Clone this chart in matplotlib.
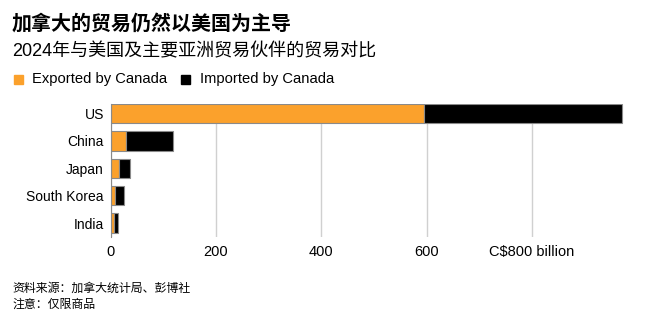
import matplotlib.pyplot as plt
import numpy as np

plt.rcParams['font.family'] = ['Liberation Sans', 'Noto Sans CJK SC']

countries = ['US', 'China', 'Japan', 'South Korea', 'India']
exported = [596, 30, 16, 8, 6]
imported = [376, 89, 21, 17, 8]
xticks = [0, 200, 400, 600, 800]
xtick_labels = ['0', '200', '400', '600', 'C$800 billion']

ORANGE = '#FBA12C'
BLACK = '#000000'
W, H = 659, 323

fig = plt.figure(figsize=(W / 100, H / 100), dpi=100)
ax = fig.add_axes([110.7 / W, 1 - 236.7 / H, (624 - 110.7) / W, (236.7 - 104) / H])

y = np.arange(len(countries))
ax.barh(y, exported, height=0.7, color=ORANGE, edgecolor='#8a8a8a', linewidth=0.8, zorder=3)
ax.barh(y, imported, left=exported, height=0.7, color=BLACK, edgecolor='#8a8a8a', linewidth=0.8, zorder=3)

ax.set_xlim(0, 975)
ax.set_ylim(len(countries) - 0.5, -0.35)
ax.set_yticks(y)
ax.set_yticklabels(countries, fontsize=10)
ax.set_xticks(xticks)
ax.set_xticklabels(xtick_labels, fontsize=10.5)
ax.tick_params(axis='both', length=0, pad=5)
ax.tick_params(axis='x', pad=6)
ax.grid(axis='x', color='#d0d0d0', linewidth=1, zorder=0)
for s in ['top', 'right', 'bottom']:
    ax.spines[s].set_visible(False)
ax.spines['left'].set_color('#8a8a8a')
ax.spines['left'].set_zorder(4)

# title block
fig.text(12 / W, 1 - 24 / H, '加拿大的贸易仍然以美国为主导', fontsize=14.4,
         fontweight='bold', va='center', ha='left')
fig.text(12 / W, 1 - 52 / H, '2024年与美国及主要亚洲贸易伙伴的贸易对比', fontsize=13,
         va='center', ha='left')

# legend
fig.patches.append(plt.Rectangle((14 / W, 1 - 84 / H), 9 / W, 9 / H, color=ORANGE,
                                 transform=fig.transFigure, figure=fig))
fig.text(32 / W, 1 - 79 / H, 'Exported by Canada', fontsize=10.6, va='center', ha='left')
fig.patches.append(plt.Rectangle((181 / W, 1 - 84 / H), 9 / W, 9 / H, color=BLACK,
                                 transform=fig.transFigure, figure=fig))
fig.text(200 / W, 1 - 79 / H, 'Imported by Canada', fontsize=10.6, va='center', ha='left')

# footer
fig.text(12 / W, 1 - 289 / H, '资料来源：加拿大统计局、彭博社', fontsize=8.6, va='center', ha='left')
fig.text(12 / W, 1 - 305 / H, '注意：仅限商品', fontsize=8.6, va='center', ha='left')

fig.savefig('out.png', dpi=100)
